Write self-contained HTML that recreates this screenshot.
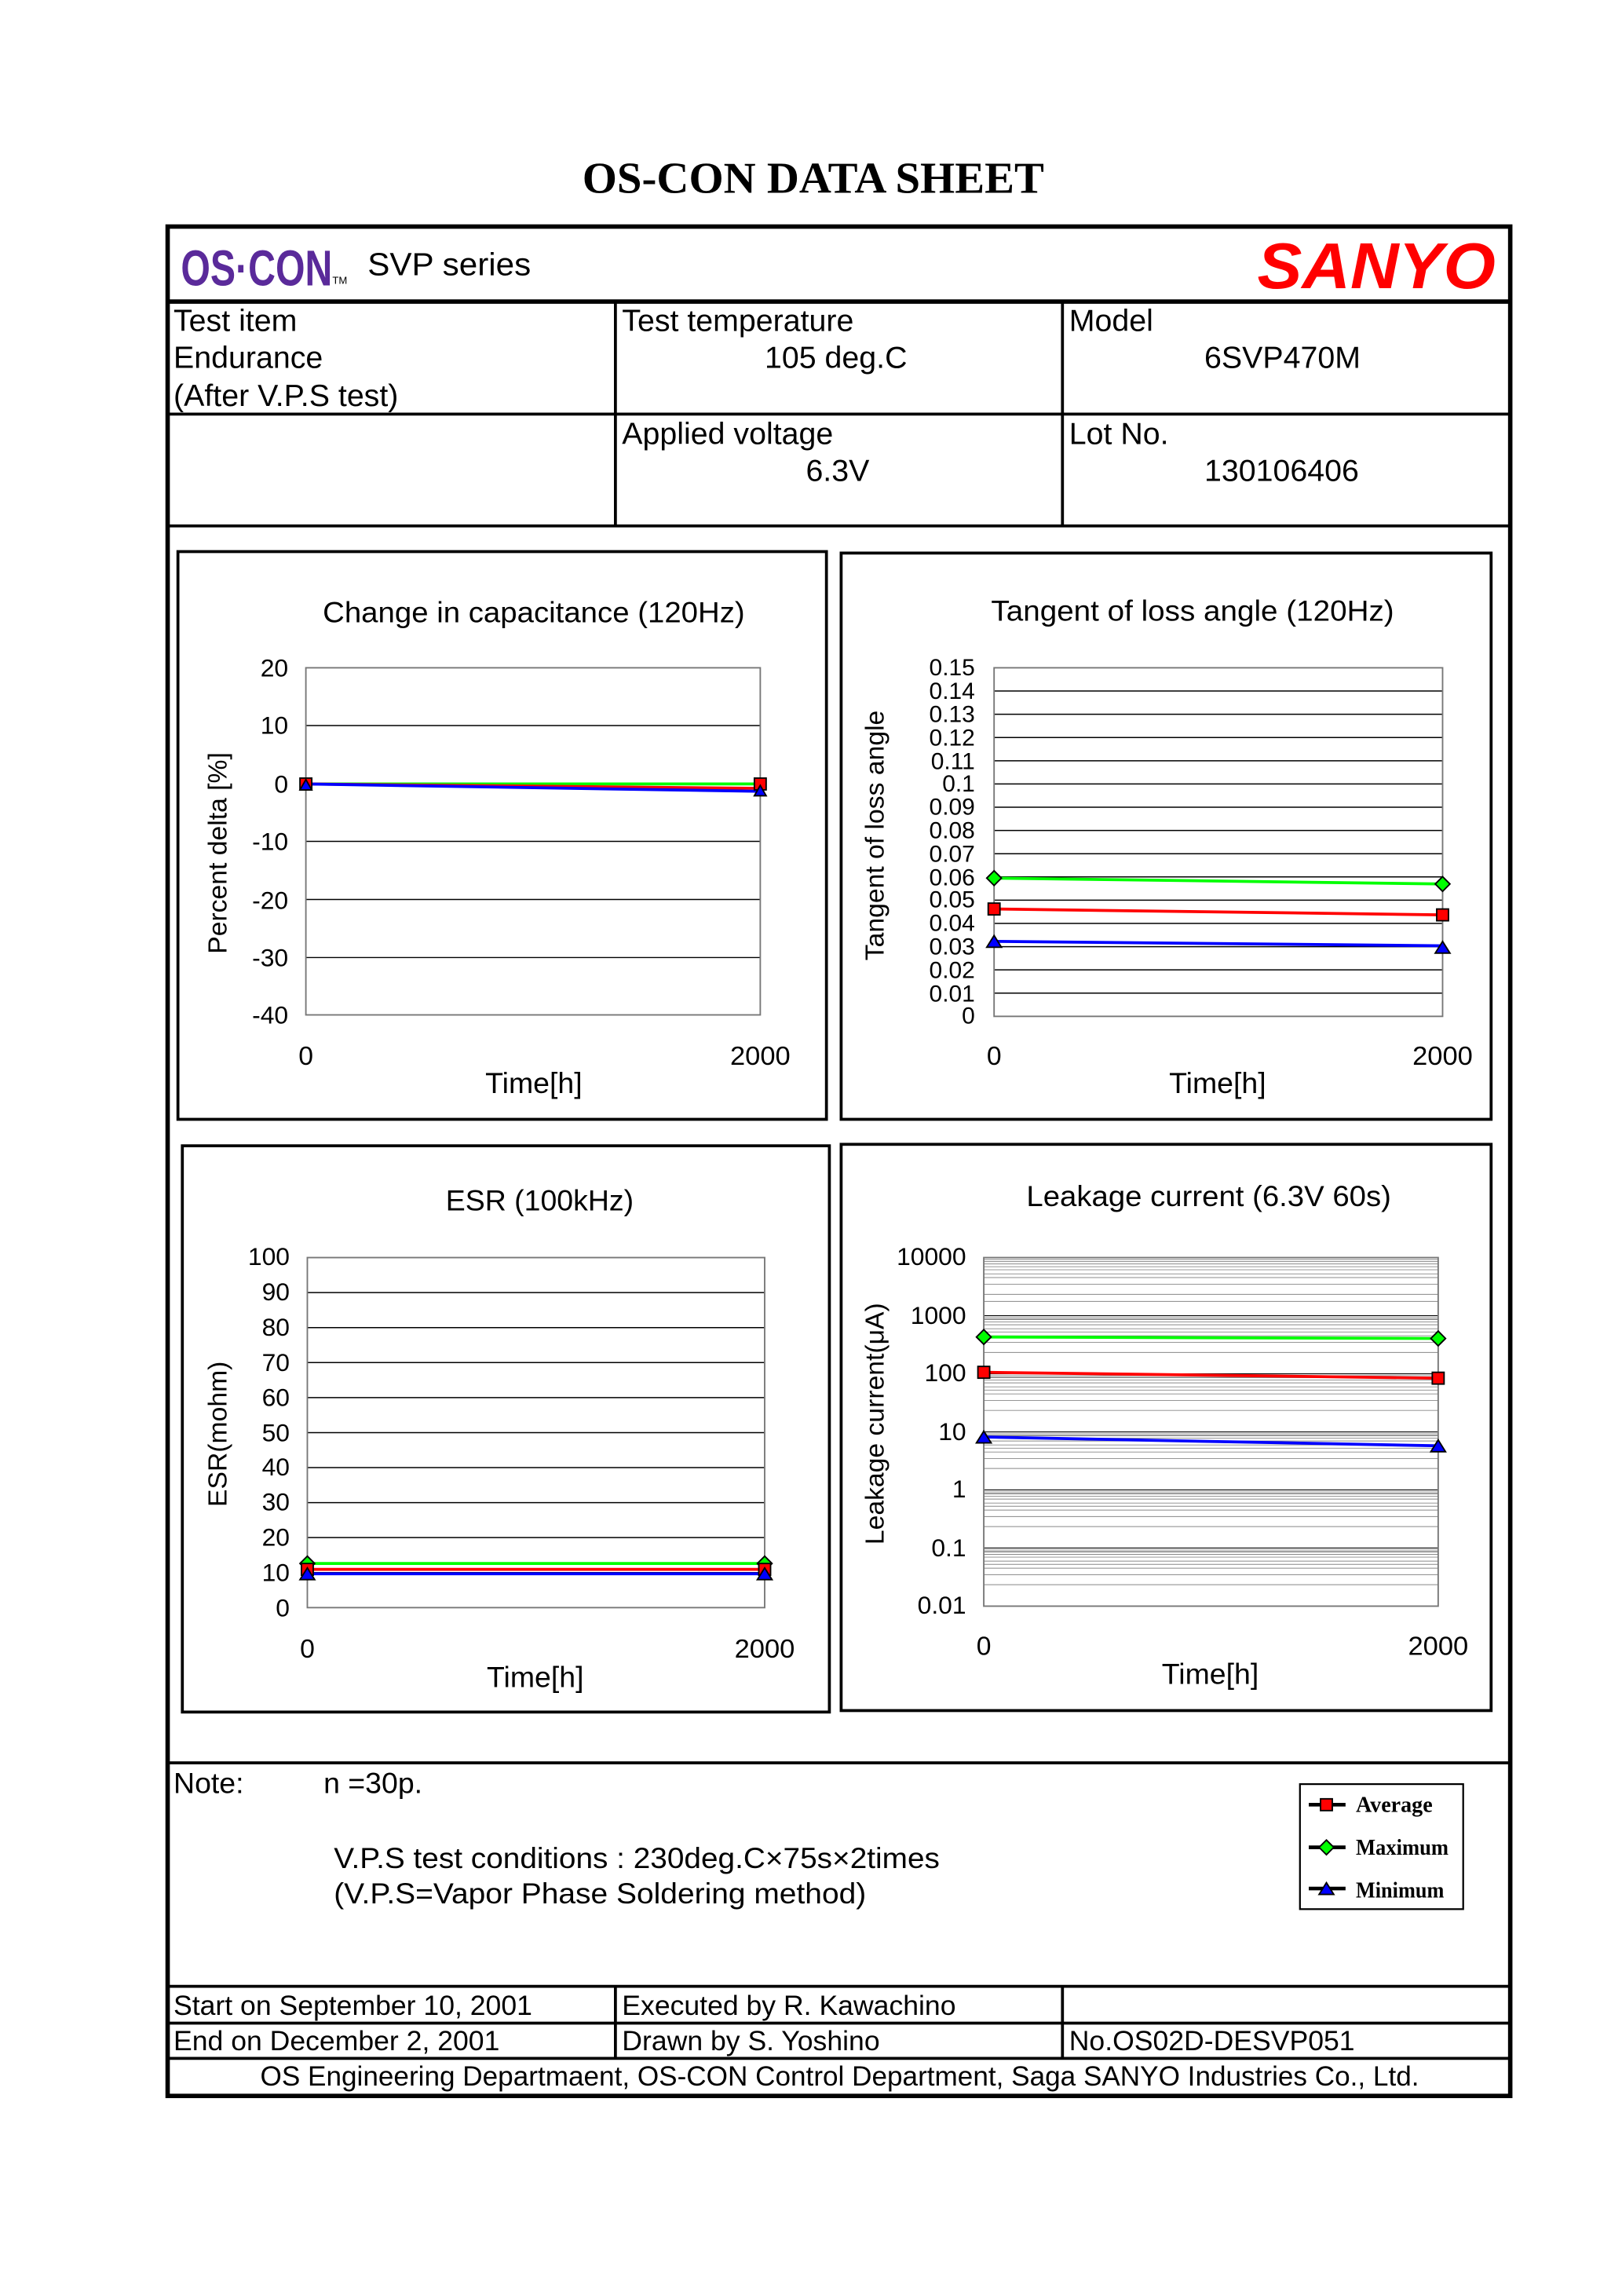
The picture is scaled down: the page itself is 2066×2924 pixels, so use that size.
<!DOCTYPE html>
<html><head><meta charset="utf-8"><style>
html,body{margin:0;padding:0;background:#fff}
svg{display:block}
text{font-family:"Liberation Sans",sans-serif;fill:#000}
.s{font-family:"Liberation Serif",serif}
</style></head><body>
<svg width="2066" height="2924" viewBox="0 0 1103 1561" xmlns="http://www.w3.org/2000/svg">
<rect width="1103" height="1561" fill="#fff"/>
<text x="553" y="131" text-anchor="middle" class="s" font-size="30" font-weight="bold" textLength="314" lengthAdjust="spacingAndGlyphs">OS-CON DATA SHEET</text>
<rect x="114" y="154" width="913" height="1271" fill="none" stroke="#000" stroke-width="3"/>
<line x1="114" y1="205" x2="1027" y2="205" stroke="#000" stroke-width="3"/>
<line x1="114" y1="281.5" x2="1027" y2="281.5" stroke="#000" stroke-width="2"/>
<line x1="114" y1="357.5" x2="1027" y2="357.5" stroke="#000" stroke-width="2"/>
<line x1="418.5" y1="205" x2="418.5" y2="357" stroke="#000" stroke-width="2"/>
<line x1="722.5" y1="205" x2="722.5" y2="357" stroke="#000" stroke-width="2"/>
<line x1="114" y1="1198.5" x2="1027" y2="1198.5" stroke="#000" stroke-width="2"/>
<line x1="114" y1="1350.5" x2="1027" y2="1350.5" stroke="#000" stroke-width="2"/>
<line x1="114" y1="1375.5" x2="1027" y2="1375.5" stroke="#000" stroke-width="2"/>
<line x1="114" y1="1399.5" x2="1027" y2="1399.5" stroke="#000" stroke-width="2"/>
<line x1="418.5" y1="1350" x2="418.5" y2="1399" stroke="#000" stroke-width="2"/>
<line x1="722.5" y1="1350" x2="722.5" y2="1399" stroke="#000" stroke-width="2"/>
<!-- header -->
<text x="123" y="194" font-size="34" font-weight="bold" style="fill:#5a2a9a" textLength="103" lengthAdjust="spacingAndGlyphs">OS·CON</text>
<text x="226" y="193" font-size="7">TM</text>
<text x="250" y="187" font-size="22" textLength="111" lengthAdjust="spacingAndGlyphs">SVP series</text>
<text x="855" y="196" font-size="44" font-weight="bold" font-style="italic" style="fill:#f00" textLength="162" lengthAdjust="spacingAndGlyphs">SANYO</text>
<g font-size="21">
<text x="118" y="225">Test item</text>
<text x="118" y="250">Endurance</text>
<text x="118" y="276">(After V.P.S test)</text>
<text x="423" y="225">Test temperature</text>
<text x="520" y="250">105 deg.C</text>
<text x="727" y="225">Model</text>
<text x="819" y="250">6SVP470M</text>
<text x="423" y="302">Applied voltage</text>
<text x="548" y="327">6.3V</text>
<text x="727" y="302">Lot No.</text>
<text x="819" y="327">130106406</text>
</g>

<!-- Chart 1 -->
<rect x="121" y="375" width="441" height="386" fill="none" stroke="#000" stroke-width="2"/>
<text x="363" y="423" text-anchor="middle" font-size="20" textLength="287" lengthAdjust="spacingAndGlyphs">Change in capacitance (120Hz)</text>
<g stroke="#000" stroke-width="0.8">
<line x1="208" y1="493.3" x2="517" y2="493.3"/><line x1="208" y1="533" x2="517" y2="533"/>
<line x1="208" y1="572" x2="517" y2="572"/><line x1="208" y1="611.5" x2="517" y2="611.5"/>
<line x1="208" y1="651" x2="517" y2="651"/>
</g>
<rect x="208" y="454" width="309" height="236" fill="none" stroke="#777" stroke-width="1"/>
<g font-size="17" text-anchor="end">
<text x="196" y="460">20</text><text x="196" y="499">10</text><text x="196" y="539">0</text>
<text x="196" y="578">-10</text><text x="196" y="618">-20</text><text x="196" y="657">-30</text><text x="196" y="696">-40</text>
</g>
<text x="208" y="724" text-anchor="middle" font-size="18">0</text>
<text x="517" y="724" text-anchor="middle" font-size="18" textLength="41" lengthAdjust="spacingAndGlyphs">2000</text>
<text x="363" y="743" text-anchor="middle" font-size="20">Time[h]</text>
<text transform="translate(154,580) rotate(-90)" text-anchor="middle" font-size="18">Percent delta [%]</text>
<line x1="208" y1="533" x2="517" y2="533" stroke="#0f0" stroke-width="2"/>
<line x1="208" y1="533" x2="517" y2="536" stroke="#f00" stroke-width="2"/>
<line x1="208" y1="533" x2="517" y2="538" stroke="#00f" stroke-width="2"/>
<rect x="204" y="529" width="8" height="8" fill="#f00" stroke="#000"/><rect x="513" y="529" width="8" height="8" fill="#f00" stroke="#000"/>
<polygon points="204,537 208,530 212,537" fill="#00f" stroke="#000"/><polygon points="513,541 517,534 521,541" fill="#00f" stroke="#000"/>

<!-- Chart 2 -->
<rect x="572" y="376" width="442" height="385" fill="none" stroke="#000" stroke-width="2"/>
<text x="811" y="422" text-anchor="middle" font-size="20" textLength="274" lengthAdjust="spacingAndGlyphs">Tangent of loss angle (120Hz)</text>
<g stroke="#000" stroke-width="0.8">
<line x1="676" y1="469.8" x2="981" y2="469.8"/><line x1="676" y1="485.6" x2="981" y2="485.6"/><line x1="676" y1="501.4" x2="981" y2="501.4"/>
<line x1="676" y1="517.2" x2="981" y2="517.2"/><line x1="676" y1="533" x2="981" y2="533"/><line x1="676" y1="548.8" x2="981" y2="548.8"/>
<line x1="676" y1="564.6" x2="981" y2="564.6"/><line x1="676" y1="580.4" x2="981" y2="580.4"/><line x1="676" y1="596.2" x2="981" y2="596.2"/>
<line x1="676" y1="612" x2="981" y2="612"/><line x1="676" y1="627.8" x2="981" y2="627.8"/><line x1="676" y1="643.6" x2="981" y2="643.6"/>
<line x1="676" y1="659.4" x2="981" y2="659.4"/><line x1="676" y1="675.2" x2="981" y2="675.2"/>
</g>
<rect x="676" y="454" width="305" height="237" fill="none" stroke="#777" stroke-width="1"/>
<g font-size="16" text-anchor="end">
<text x="663" y="459">0.15</text><text x="663" y="475">0.14</text><text x="663" y="491">0.13</text><text x="663" y="507">0.12</text>
<text x="663" y="523">0.11</text><text x="663" y="538">0.1</text><text x="663" y="554">0.09</text><text x="663" y="570">0.08</text>
<text x="663" y="586">0.07</text><text x="663" y="602">0.06</text><text x="663" y="617">0.05</text><text x="663" y="633">0.04</text>
<text x="663" y="649">0.03</text><text x="663" y="665">0.02</text><text x="663" y="681">0.01</text><text x="663" y="696">0</text>
</g>
<text x="676" y="724" text-anchor="middle" font-size="18">0</text>
<text x="981" y="724" text-anchor="middle" font-size="18" textLength="41" lengthAdjust="spacingAndGlyphs">2000</text>
<text x="828" y="743" text-anchor="middle" font-size="20">Time[h]</text>
<text transform="translate(601,568) rotate(-90)" text-anchor="middle" font-size="18">Tangent of loss angle</text>
<line x1="676" y1="597" x2="981" y2="601" stroke="#0f0" stroke-width="2"/>
<line x1="676" y1="618" x2="981" y2="622" stroke="#f00" stroke-width="2"/>
<line x1="676" y1="640" x2="981" y2="643" stroke="#00f" stroke-width="2"/>
<polygon points="676,592 681,597 676,602 671,597" fill="#0f0" stroke="#000"/><polygon points="981,596 986,601 981,606 976,601" fill="#0f0" stroke="#000"/>
<rect x="672" y="614" width="8" height="8" fill="#f00" stroke="#000"/><rect x="977" y="618" width="8" height="8" fill="#f00" stroke="#000"/>
<polygon points="671,644 676,636 681,644" fill="#00f" stroke="#000"/><polygon points="976,648 981,640 986,648" fill="#00f" stroke="#000"/>

<!-- Chart 3 -->
<rect x="124" y="779" width="440" height="385" fill="none" stroke="#000" stroke-width="2"/>
<text x="367" y="823" text-anchor="middle" font-size="20">ESR (100kHz)</text>
<g stroke="#000" stroke-width="0.8">
<line x1="209" y1="878.8" x2="520" y2="878.8"/><line x1="209" y1="902.6" x2="520" y2="902.6"/><line x1="209" y1="926.4" x2="520" y2="926.4"/>
<line x1="209" y1="950.2" x2="520" y2="950.2"/><line x1="209" y1="974" x2="520" y2="974"/><line x1="209" y1="997.8" x2="520" y2="997.8"/>
<line x1="209" y1="1021.6" x2="520" y2="1021.6"/><line x1="209" y1="1045.4" x2="520" y2="1045.4"/><line x1="209" y1="1069.2" x2="520" y2="1069.2"/>
</g>
<rect x="209" y="855" width="311" height="238" fill="none" stroke="#777" stroke-width="1"/>
<g font-size="17" text-anchor="end">
<text x="197" y="860">100</text><text x="197" y="884">90</text><text x="197" y="908">80</text><text x="197" y="932">70</text>
<text x="197" y="956">60</text><text x="197" y="980">50</text><text x="197" y="1003">40</text><text x="197" y="1027">30</text>
<text x="197" y="1051">20</text><text x="197" y="1075">10</text><text x="197" y="1099">0</text>
</g>
<text x="209" y="1127" text-anchor="middle" font-size="18">0</text>
<text x="520" y="1127" text-anchor="middle" font-size="18" textLength="41" lengthAdjust="spacingAndGlyphs">2000</text>
<text x="364" y="1147" text-anchor="middle" font-size="20">Time[h]</text>
<text transform="translate(154,975) rotate(-90)" text-anchor="middle" font-size="18">ESR(mohm)</text>
<line x1="209" y1="1063" x2="520" y2="1063" stroke="#0f0" stroke-width="2"/>
<line x1="209" y1="1067" x2="520" y2="1067" stroke="#f00" stroke-width="2"/>
<line x1="209" y1="1070" x2="520" y2="1070" stroke="#00f" stroke-width="2"/>
<polygon points="209,1058 214,1063 209,1068 204,1063" fill="#0f0" stroke="#000"/><polygon points="520,1058 525,1063 520,1068 515,1063" fill="#0f0" stroke="#000"/>
<rect x="205" y="1063" width="8" height="8" fill="#f00" stroke="#000"/><rect x="516" y="1063" width="8" height="8" fill="#f00" stroke="#000"/>
<polygon points="204,1074 209,1066 214,1074" fill="#00f" stroke="#000"/><polygon points="515,1074 520,1066 525,1074" fill="#00f" stroke="#000"/>

<!-- Chart 4 -->
<rect x="572" y="778" width="442" height="385" fill="none" stroke="#000" stroke-width="2"/>
<text x="822" y="820" text-anchor="middle" font-size="20" textLength="248" lengthAdjust="spacingAndGlyphs">Leakage current (6.3V 60s)</text>
<g stroke="#000" stroke-width="0.6">
<line x1="669" y1="894.5" x2="978" y2="894.5"/><line x1="669" y1="934" x2="978" y2="934"/><line x1="669" y1="973.5" x2="978" y2="973.5"/>
<line x1="669" y1="1013" x2="978" y2="1013"/><line x1="669" y1="1052.5" x2="978" y2="1052.5"/>
</g>
<g stroke="#888" stroke-width="0.5">
<path d="M669 873.1H978M669 866.1H978M669 861.2H978M669 863.3H978M669 859.3H978M669 857.7H978M669 856.3H978
M669 912.6H978M669 905.6H978M669 900.7H978M669 896.8H978M669 903.4H978M669 908.2H978M669 898.8H978M669 897.2H978M669 895.8H978
M669 952.1H978M669 945.1H978M669 940.2H978M669 936.3H978M669 942.9H978M669 947.7H978M669 938.3H978M669 936.7H978M669 935.3H978
M669 991.6H978M669 984.6H978M669 979.7H978M669 975.8H978M669 982.4H978M669 987.2H978M669 977.8H978M669 976.2H978M669 974.8H978
M669 1031.1H978M669 1024.1H978M669 1019.2H978M669 1015.3H978M669 1021.9H978M669 1026.7H978M669 1017.3H978M669 1015.7H978M669 1014.3H978
M669 1070.6H978M669 1063.6H978M669 1058.7H978M669 1054.8H978M669 1061.4H978M669 1066.2H978M669 1056.8H978M669 1055.2H978M669 1053.8H978
M669 880H978M669 884.8H978M669 868.6H978M669 919.5H978M669 958.9H978M669 998.4H978M669 1037.9H978M669 1077.4H978"/>
</g>
<rect x="669" y="855" width="309" height="237" fill="none" stroke="#777" stroke-width="1"/>
<g font-size="17" text-anchor="end">
<text x="657" y="860">10000</text><text x="657" y="900">1000</text><text x="657" y="939">100</text><text x="657" y="979">10</text>
<text x="657" y="1018">1</text><text x="657" y="1058">0.1</text><text x="657" y="1097">0.01</text>
</g>
<text x="669" y="1125" text-anchor="middle" font-size="18">0</text>
<text x="978" y="1125" text-anchor="middle" font-size="18" textLength="41" lengthAdjust="spacingAndGlyphs">2000</text>
<text x="823" y="1145" text-anchor="middle" font-size="20">Time[h]</text>
<text transform="translate(601,968) rotate(-90)" text-anchor="middle" font-size="18">Leakage current(μA)</text>
<line x1="669" y1="909" x2="978" y2="910" stroke="#0f0" stroke-width="2"/>
<line x1="669" y1="933" x2="978" y2="937" stroke="#f00" stroke-width="2"/>
<line x1="669" y1="977" x2="978" y2="983" stroke="#00f" stroke-width="2"/>
<polygon points="669,904 674,909 669,914 664,909" fill="#0f0" stroke="#000"/><polygon points="978,905 983,910 978,915 973,910" fill="#0f0" stroke="#000"/>
<rect x="665" y="929" width="8" height="8" fill="#f00" stroke="#000"/><rect x="974" y="933" width="8" height="8" fill="#f00" stroke="#000"/>
<polygon points="664,981 669,973 674,981" fill="#00f" stroke="#000"/><polygon points="973,987 978,979 983,987" fill="#00f" stroke="#000"/>

<!-- Note -->
<text x="118" y="1219" font-size="20">Note:</text>
<text x="220" y="1219" font-size="20">n =30p.</text>
<text x="227" y="1270" font-size="20" textLength="412" lengthAdjust="spacingAndGlyphs">V.P.S test conditions : 230deg.C×75s×2times</text>
<text x="227" y="1294" font-size="20" textLength="362" lengthAdjust="spacingAndGlyphs">(V.P.S=Vapor Phase Soldering method)</text>
<rect x="884" y="1213" width="111" height="85" fill="none" stroke="#000" stroke-width="1.2"/>
<g stroke="#000" stroke-width="2.5">
<line x1="890" y1="1227" x2="915" y2="1227"/><line x1="890" y1="1256" x2="915" y2="1256"/><line x1="890" y1="1284" x2="915" y2="1284"/>
</g>
<rect x="898" y="1223" width="8" height="8" fill="#f00" stroke="#000"/>
<polygon points="902,1251 907,1256 902,1261 897,1256" fill="#0f0" stroke="#000"/>
<polygon points="897,1288 902,1280 907,1288" fill="#00f" stroke="#000"/>
<g font-size="15" font-weight="bold">
<text x="922" y="1232" class="s">Average</text><text x="922" y="1261" class="s" textLength="63" lengthAdjust="spacingAndGlyphs">Maximum</text><text x="922" y="1290" class="s" textLength="60" lengthAdjust="spacingAndGlyphs">Minimum</text>
</g>

<!-- footer -->
<g font-size="19">
<text x="118" y="1370">Start on September 10, 2001</text>
<text x="423" y="1370">Executed by R. Kawachino</text>
<text x="118" y="1394">End on December 2, 2001</text>
<text x="423" y="1394">Drawn by S. Yoshino</text>
<text x="727" y="1394">No.OS02D-DESVP051</text>
<text x="571" y="1418" text-anchor="middle" textLength="788" lengthAdjust="spacingAndGlyphs">OS Engineering Departmaent, OS-CON Control Department, Saga SANYO Industries Co., Ltd.</text>
</g>
</svg>
</body></html>
